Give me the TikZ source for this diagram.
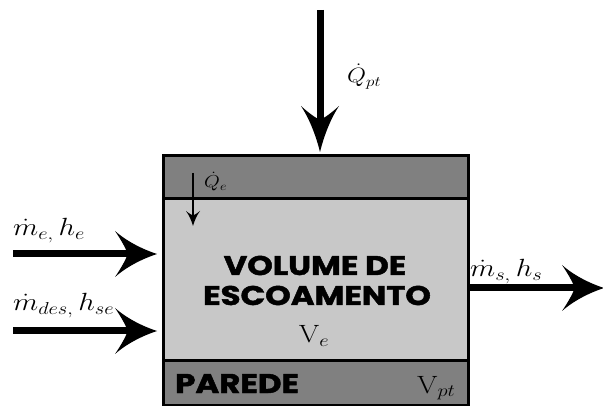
\documentclass[tikz,border=0pt]{standalone}
\usepackage{fontspec}
\usepackage{graphicx}
\usetikzlibrary{arrows.meta}
\newfontfamily\headfont{Poppins}[FakeBold=1.6]
\definecolor{wallgray}{HTML}{808080}
\definecolor{flowgray}{HTML}{C8C8C8}

% filled arrow head with slightly concave flanks and a notched back
\pgfdeclarearrow{
  name = Swoop,
  defaults = {length = 42pt, width = 46pt},
  setup code = {
    \pgfarrowssettipend{0pt}
    \pgfarrowssetlineend{-0.66\pgfarrowlength}
    \pgfarrowssetbackend{-\pgfarrowlength}
    \pgfarrowshullpoint{0pt}{0pt}
    \pgfarrowsupperhullpoint{-\pgfarrowlength}{0.5\pgfarrowwidth}
    \pgfarrowssavethe\pgfarrowlength
    \pgfarrowssavethe\pgfarrowwidth
  },
  drawing code = {
    \pgfpathmoveto{\pgfqpoint{0pt}{0pt}}
    \pgfpathcurveto{\pgfqpoint{-0.4\pgfarrowlength}{0.12\pgfarrowwidth}}
                   {\pgfqpoint{-0.75\pgfarrowlength}{0.3\pgfarrowwidth}}
                   {\pgfqpoint{-\pgfarrowlength}{0.5\pgfarrowwidth}}
    \pgfpathcurveto{\pgfqpoint{-0.85\pgfarrowlength}{0.3\pgfarrowwidth}}
                   {\pgfqpoint{-0.74\pgfarrowlength}{0.12\pgfarrowwidth}}
                   {\pgfqpoint{-0.7\pgfarrowlength}{0pt}}
    \pgfpathcurveto{\pgfqpoint{-0.74\pgfarrowlength}{-0.12\pgfarrowwidth}}
                   {\pgfqpoint{-0.85\pgfarrowlength}{-0.3\pgfarrowwidth}}
                   {\pgfqpoint{-\pgfarrowlength}{-0.5\pgfarrowwidth}}
    \pgfpathcurveto{\pgfqpoint{-0.75\pgfarrowlength}{-0.3\pgfarrowwidth}}
                   {\pgfqpoint{-0.4\pgfarrowlength}{-0.12\pgfarrowwidth}}
                   {\pgfqpoint{0pt}{0pt}}
    \pgfpathclose
    \pgfusepathqfill
  },
  parameters = {\the\pgfarrowlength,\the\pgfarrowwidth},
}

% wide math labels
\newcommand{\widelab}[1]{\scalebox{1.18}[1]{$#1$}}
\newcommand{\widehead}[1]{\scalebox{1.2}[1]{#1}}

\begin{document}
\begin{tikzpicture}[x=1pt, y=-1pt,
  layer/.style={draw=black, line width=3pt, inner sep=0pt, outer sep=0pt,
                minimum width=305pt},
  flux/.style={line width=7pt, -{Swoop[length=42pt,width=46pt]}},
  downflux/.style={line width=7pt, -{Swoop[length=46pt,width=38pt]}},
  smallflux/.style={line width=2.5pt, -{Swoop[length=15pt,width=14pt]}},
  heading/.style={font=\headfont\bfseries\fontsize{27}{29}\selectfont, inner sep=0pt},
  label/.style={inner sep=0pt, font=\fontsize{25}{28}\selectfont},
  qlabel/.style={inner sep=0pt, font=\fontsize{22}{26}\selectfont},
  vlabel/.style={inner sep=0pt, font=\fontsize{25}{28}\selectfont},
  smalllabel/.style={inner sep=0pt, font=\fontsize{17}{20}\selectfont}]

\useasboundingbox (0,0) rectangle (603,406);

% control volume: wall strips around the flow region
\node[layer, fill=wallgray, minimum height=43pt] (topwall) at (315.5,177.5) {};
\node[layer, fill=flowgray, minimum height=162pt] (flow) at (315.5,280) {};
\node[layer, fill=wallgray, minimum height=44pt] (botwall) at (315.5,383) {};

% texts inside the volume
\node[heading, anchor=base] (t1) at (315,275) {\widehead{VOLUME DE}};
\node[heading, anchor=base] (t2) at (317,305) {\widehead{ESCOAMENTO}};
\node[vlabel, anchor=base] (ve) at (314,343) {\widelab{\mathrm{V}_{e}}};
\node[heading, anchor=base west] (wall) at (175,393) {\widehead{PAREDE}};
\node[vlabel, anchor=base west] (vpt) at (417,393) {\widelab{\mathrm{V}_{pt}}};

% heat to the wall
\coordinate (qsrc) at (320,10);
\draw[downflux, shorten >=4pt] (qsrc) -- (qsrc |- topwall.north);
\node[qlabel, anchor=base west] (qpt) at (347,83) {\widelab{\dot{Q}_{pt}}};

% heat from the wall into the flow
\coordinate (qe1) at (193,173);
\coordinate (qe2) at (193,226);
\draw[smallflux] (qe1) -- (qe2);
\node[smalllabel, anchor=base west] (qe) at (204,188) {\widelab{\dot{Q}_{e}}};

% mass flows in
\coordinate (in1) at (13,254);
\coordinate (in2) at (13,331);
\draw[flux, shorten >=6pt] (in1) -- (in1 -| flow.west);
\draw[flux, shorten >=6pt] (in2) -- (in2 -| flow.west);
\node[label, anchor=base west] (me) at (13,236) {\widelab{\dot{m}_{e,}\,h_{e}}};
\node[label, anchor=base west] (mdes) at (13,311) {\widelab{\dot{m}_{des,}\,h_{se}}};

% mass flow out
\coordinate (out) at (604,288);
\draw[flux] (out -| flow.east) -- (out);
\node[label, anchor=base west] (ms) at (470,277) {\widelab{\dot{m}_{s,}\,h_{s}}};

\end{tikzpicture}
\end{document}
